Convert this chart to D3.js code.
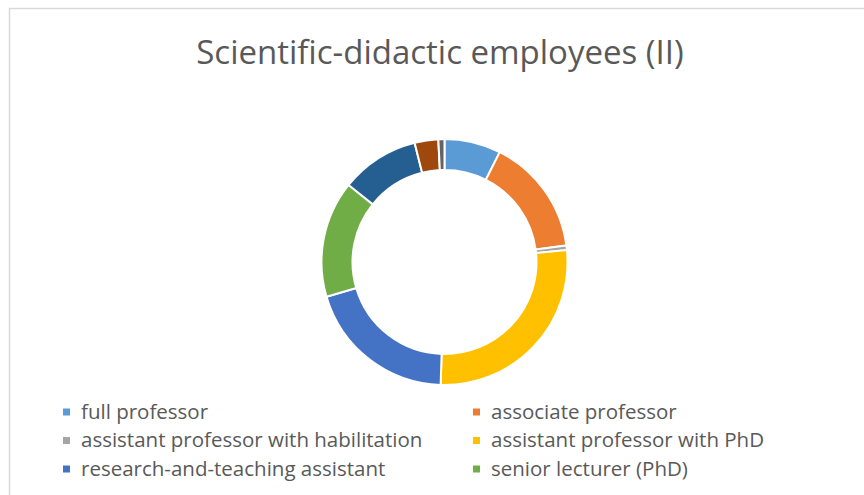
<!DOCTYPE html>
<html>
<head>
<meta charset="utf-8">
<script src="https://cdn.jsdelivr.net/npm/d3@7/dist/d3.min.js"></script>
<style>
  body { margin: 0; background: #fff; }
  svg text { font-family: "Open Sans", sans-serif; fill: #595959; }
</style>
</head>
<body>
<div id="graf"></div>
<script>
// datos (porcentaje aprox.)
var categorias = ['full professor', 'associate professor', 'assistant professor with habilitation',
  'assistant professor with PhD', 'research-and-teaching assistant', 'senior lecturer (PhD)',
  'other (1)', 'other (2)', 'other (3)']
var valores = [7.4, 15.4, 0.6, 27.0, 19.9, 15.3, 10.3, 3.1, 0.8]
var colores = ['#5B9BD5', '#ED7D31', '#A5A5A5', '#FFC000', '#4472C4', '#70AD47', '#255E91', '#9E480E', '#636363']
var titulo = 'Scientific-didactic employees (II)'

var ancho_total = 864, alto_total = 495

svg = d3.select('#graf').append('svg')
        .attr('width', ancho_total)
        .attr('height', alto_total)

// marco del area del grafico
svg.append('rect')
   .attr('x', 9.5).attr('y', 8.5)
   .attr('width', ancho_total + 20).attr('height', alto_total + 20)
   .attr('fill', 'none')
   .attr('stroke', '#d9d9d9')
   .attr('stroke-width', 1.5)

svg.append('text')
   .attr('x', 440)
   .attr('y', 64)
   .attr('text-anchor', 'middle')
   .style('font-size', '33px')
   .text(titulo)

data = categorias.map((c, i) => ({ cat: c, val: valores[i] }))

color = d3.scaleOrdinal().domain(categorias).range(colores)

pie = d3.pie().sort(null).value(d => d.val)
arco = d3.arc().innerRadius(92).outerRadius(123)

g = svg.append('g')
       .attr('transform', 'translate(444.5, 262)')

g.selectAll('path')
  .data(pie(data))
  .enter().append('path')
  .attr('d', arco)
  .attr('fill', d => color(d.data.cat))
  .attr('stroke', '#fff')
  .attr('stroke-width', 2)

// leyenda (solo caben 6 entradas, el resto queda cortado)
var leyenda = svg.append('g')
var items = leyenda.selectAll('g')
  .data(data.slice(0, 6))
  .enter().append('g')
  .attr('transform', (d, i) => `translate(${i % 2 ? 473 : 63}, ${412 + Math.floor(i / 2) * 28.5})`)

items.append('rect')
  .attr('x', 0).attr('y', -3.5)
  .attr('width', 7).attr('height', 7)
  .attr('fill', d => color(d.cat))

items.append('text')
  .attr('x', 18)
  .attr('y', 6.5)
  .style('font-size', '20.5px')
  .text(d => d.cat)
</script>
</body>
</html>
